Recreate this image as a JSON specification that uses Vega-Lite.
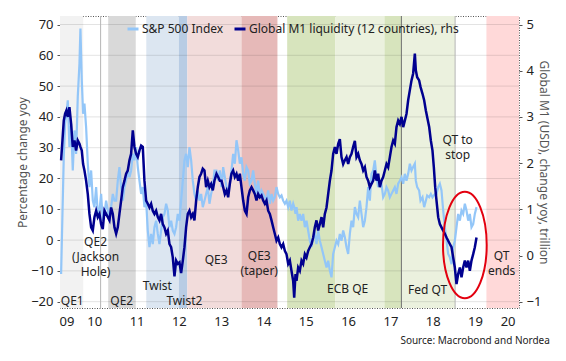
{
  "$schema": "https://vega.github.io/schema/vega-lite/v6.json",
  "width": 459,
  "height": 292,
  "autosize": "none",
  "padding": {"left": 60, "top": 16, "right": 47, "bottom": 53},
  "background": "white",
  "config": {
    "font": "Noto Sans",
    "view": {"stroke": "#555", "strokeDash": [1, 1.5], "strokeWidth": 1},
    "axis": {"labelFont": "Noto Sans", "titleFont": "Noto Sans", "labelColor": "#222", "tickColor": "#555", "domain": false, "grid": false, "titleFontWeight": "normal"}
  },
  "title": {"text": "Source: Macrobond and Nordea", "orient": "bottom", "anchor": "end", "frame": "bounds", "fontSize": 10, "fontWeight": "normal", "color": "#222", "offset": 8, "font": "Noto Sans"},
  "datasets": {
    "bands": [
      {"a": 2009.69, "b": 2010.24, "k": "QE1"},
      {"a": 2010.83, "b": 2011.48, "k": "QE2"},
      {"a": 2011.73, "b": 2012.50, "k": "Twist"},
      {"a": 2012.50, "b": 2012.70, "k": "Twist2"},
      {"a": 2012.70, "b": 2013.98, "k": "QE3"},
      {"a": 2013.98, "b": 2014.83, "k": "Taper"},
      {"a": 2015.06, "b": 2016.20, "k": "ECB1"},
      {"a": 2016.20, "b": 2017.36, "k": "ECB2"},
      {"a": 2017.36, "b": 2017.76, "k": "ECB3"},
      {"a": 2017.76, "b": 2019.03, "k": "FedQT"},
      {"a": 2019.77, "b": 2020.54, "k": "QTends"}
    ],
    "events": [
      {"t": 2010.65, "k": "minor"},
      {"t": 2017.76, "k": "major"},
      {"t": 2019.03, "k": "minor"}
    ],
    "grid": [
      {"g": -20}, {"g": -10}, {"g": 0}, {"g": 10}, {"g": 20}, {"g": 30}, {"g": 40}, {"g": 50}, {"g": 60}, {"g": 70}
    ],
    "notes": [
      {"label": "QE1", "t": 2009.98, "v": -19.7},
      {"label": "QE2\n(Jackson\nHole)", "t": 2010.53, "v": -0.6},
      {"label": "QE2", "t": 2011.15, "v": -19.7},
      {"label": "Twist", "t": 2011.99, "v": -15.0},
      {"label": "Twist2", "t": 2012.63, "v": -19.7},
      {"label": "QE3", "t": 2013.38, "v": -6.5},
      {"label": "QE3\n(taper)", "t": 2014.40, "v": -5.1},
      {"label": "ECB QE", "t": 2016.49, "v": -15.9},
      {"label": "Fed QT", "t": 2018.38, "v": -16.3},
      {"label": "QT to\nstop", "t": 2019.09, "v": 32.5},
      {"label": "QT\nends", "t": 2020.13, "v": -5.2}
    ],
    "ellipse": [{"t": 2019.26, "v": -1.6}],
    "series": [
      {"t": 2009.716, "s": -11.0, "m": 2.06},
      {"t": 2009.748, "s": 8.5, "m": 2.49},
      {"t": 2009.779, "s": 26.9, "m": 2.92},
      {"t": 2009.811, "s": 37.8, "m": 3.07},
      {"t": 2009.842, "s": 41.0, "m": 3.14},
      {"t": 2009.874, "s": 45.4, "m": 3.00},
      {"t": 2009.913, "s": 30.2, "m": 3.21},
      {"t": 2009.953, "s": 37.8, "m": 2.85},
      {"t": 2009.992, "s": 22.6, "m": 2.35},
      {"t": 2010.032, "s": 35.6, "m": 2.49},
      {"t": 2010.071, "s": 28.0, "m": 2.27},
      {"t": 2010.110, "s": 46.5, "m": 2.49},
      {"t": 2010.150, "s": 57.3, "m": 2.42},
      {"t": 2010.173, "s": 68.7, "m": 2.35},
      {"t": 2010.205, "s": 51.9, "m": 2.27},
      {"t": 2010.236, "s": 41.0, "m": 1.98},
      {"t": 2010.268, "s": 44.3, "m": 1.84},
      {"t": 2010.307, "s": 36.7, "m": 1.62},
      {"t": 2010.347, "s": 24.8, "m": 1.33},
      {"t": 2010.386, "s": 17.2, "m": 0.90},
      {"t": 2010.426, "s": 22.6, "m": 0.61},
      {"t": 2010.465, "s": 12.8, "m": 0.54},
      {"t": 2010.504, "s": 10.7, "m": 0.83},
      {"t": 2010.544, "s": 17.2, "m": 0.97},
      {"t": 2010.583, "s": 8.5, "m": 0.83},
      {"t": 2010.623, "s": 9.6, "m": 0.90},
      {"t": 2010.662, "s": 15.0, "m": 0.68},
      {"t": 2010.701, "s": 6.3, "m": 0.57},
      {"t": 2010.741, "s": 8.5, "m": 0.97},
      {"t": 2010.780, "s": 12.8, "m": 0.90},
      {"t": 2010.820, "s": 9.6, "m": 0.83},
      {"t": 2010.859, "s": 6.3, "m": 0.76},
      {"t": 2010.898, "s": 10.7, "m": 1.04},
      {"t": 2010.938, "s": 15.0, "m": 0.90},
      {"t": 2010.977, "s": 12.8, "m": 0.61},
      {"t": 2011.017, "s": 12.8, "m": 0.47},
      {"t": 2011.056, "s": 19.3, "m": 0.61},
      {"t": 2011.095, "s": 23.7, "m": 0.90},
      {"t": 2011.135, "s": 17.2, "m": 1.19},
      {"t": 2011.174, "s": 12.8, "m": 1.48},
      {"t": 2011.214, "s": 17.2, "m": 1.62},
      {"t": 2011.253, "s": 19.3, "m": 1.77},
      {"t": 2011.292, "s": 22.6, "m": 1.84},
      {"t": 2011.332, "s": 20.4, "m": 2.06},
      {"t": 2011.371, "s": 22.6, "m": 2.20},
      {"t": 2011.411, "s": 28.0, "m": 2.71},
      {"t": 2011.450, "s": 25.9, "m": 2.35},
      {"t": 2011.489, "s": 30.2, "m": 2.20},
      {"t": 2011.529, "s": 23.7, "m": 2.13},
      {"t": 2011.568, "s": 19.3, "m": 2.27},
      {"t": 2011.608, "s": 15.0, "m": 2.38},
      {"t": 2011.647, "s": 17.2, "m": 2.35},
      {"t": 2011.686, "s": 10.7, "m": 1.62},
      {"t": 2011.726, "s": 12.8, "m": 1.19},
      {"t": 2011.765, "s": 3.1, "m": 1.12},
      {"t": 2011.805, "s": -2.3, "m": 1.04},
      {"t": 2011.844, "s": 2.0, "m": 1.12},
      {"t": 2011.883, "s": -1.3, "m": 0.97},
      {"t": 2011.923, "s": 4.2, "m": 0.90},
      {"t": 2011.962, "s": 6.3, "m": 0.97},
      {"t": 2012.002, "s": 2.0, "m": 0.83},
      {"t": 2012.041, "s": -1.3, "m": 0.76},
      {"t": 2012.080, "s": 3.1, "m": 0.90},
      {"t": 2012.120, "s": 7.4, "m": 0.68},
      {"t": 2012.159, "s": 8.5, "m": 0.61},
      {"t": 2012.199, "s": 11.8, "m": 0.47},
      {"t": 2012.238, "s": 9.6, "m": 0.54},
      {"t": 2012.277, "s": 4.2, "m": 0.25},
      {"t": 2012.317, "s": 6.3, "m": 0.18},
      {"t": 2012.356, "s": 3.1, "m": -0.04},
      {"t": 2012.396, "s": 2.0, "m": -0.45},
      {"t": 2012.435, "s": 4.2, "m": -0.11},
      {"t": 2012.474, "s": 8.5, "m": -0.18},
      {"t": 2012.514, "s": 6.3, "m": -0.15},
      {"t": 2012.553, "s": 12.8, "m": -0.38},
      {"t": 2012.593, "s": 19.3, "m": -0.11},
      {"t": 2012.632, "s": 25.9, "m": 0.18},
      {"t": 2012.671, "s": 28.0, "m": 0.61},
      {"t": 2012.711, "s": 23.7, "m": 0.90},
      {"t": 2012.750, "s": 30.2, "m": 0.97},
      {"t": 2012.790, "s": 25.9, "m": 0.83},
      {"t": 2012.829, "s": 19.3, "m": 0.90},
      {"t": 2012.868, "s": 15.0, "m": 0.76},
      {"t": 2012.908, "s": 12.8, "m": 1.19},
      {"t": 2012.947, "s": 16.1, "m": 1.48},
      {"t": 2012.987, "s": 12.8, "m": 1.70},
      {"t": 2013.026, "s": 15.0, "m": 1.77},
      {"t": 2013.065, "s": 10.7, "m": 1.88},
      {"t": 2013.105, "s": 12.8, "m": 1.84},
      {"t": 2013.144, "s": 15.0, "m": 1.48},
      {"t": 2013.184, "s": 17.2, "m": 1.62},
      {"t": 2013.223, "s": 11.8, "m": 1.48},
      {"t": 2013.262, "s": 15.0, "m": 1.55},
      {"t": 2013.302, "s": 17.2, "m": 1.41},
      {"t": 2013.341, "s": 22.6, "m": 1.62},
      {"t": 2013.389, "s": 22.6, "m": 1.77},
      {"t": 2013.429, "s": 19.3, "m": 1.70},
      {"t": 2013.468, "s": 22.6, "m": 1.62},
      {"t": 2013.508, "s": 17.2, "m": 1.62},
      {"t": 2013.547, "s": 23.7, "m": 1.48},
      {"t": 2013.586, "s": 20.4, "m": 1.33},
      {"t": 2013.626, "s": 17.2, "m": 1.41},
      {"t": 2013.665, "s": 15.0, "m": 1.26},
      {"t": 2013.705, "s": 19.3, "m": 1.55},
      {"t": 2013.744, "s": 22.6, "m": 1.77},
      {"t": 2013.783, "s": 28.0, "m": 1.84},
      {"t": 2013.823, "s": 24.8, "m": 1.70},
      {"t": 2013.862, "s": 32.4, "m": 1.77},
      {"t": 2013.902, "s": 29.1, "m": 1.62},
      {"t": 2013.941, "s": 24.8, "m": 1.77},
      {"t": 2013.980, "s": 26.9, "m": 1.48},
      {"t": 2014.020, "s": 21.5, "m": 1.19},
      {"t": 2014.059, "s": 19.3, "m": 0.97},
      {"t": 2014.099, "s": 23.7, "m": 0.90},
      {"t": 2014.138, "s": 22.6, "m": 1.26},
      {"t": 2014.177, "s": 18.3, "m": 1.41},
      {"t": 2014.217, "s": 19.3, "m": 1.48},
      {"t": 2014.256, "s": 22.6, "m": 1.41},
      {"t": 2014.296, "s": 18.3, "m": 1.33},
      {"t": 2014.335, "s": 15.0, "m": 1.19},
      {"t": 2014.374, "s": 19.3, "m": 1.33},
      {"t": 2014.414, "s": 13.9, "m": 1.26},
      {"t": 2014.453, "s": 16.1, "m": 1.30},
      {"t": 2014.493, "s": 15.0, "m": 1.19},
      {"t": 2014.532, "s": 13.9, "m": 1.12},
      {"t": 2014.571, "s": 12.8, "m": 1.19},
      {"t": 2014.611, "s": 16.1, "m": 0.97},
      {"t": 2014.650, "s": 11.8, "m": 0.90},
      {"t": 2014.690, "s": 15.0, "m": 0.76},
      {"t": 2014.729, "s": 12.8, "m": 0.61},
      {"t": 2014.768, "s": 13.9, "m": 0.47},
      {"t": 2014.808, "s": 17.2, "m": 0.32},
      {"t": 2014.847, "s": 15.0, "m": 0.39},
      {"t": 2014.887, "s": 13.9, "m": 0.25},
      {"t": 2014.926, "s": 14.5, "m": 0.18},
      {"t": 2014.965, "s": 12.8, "m": 0.25},
      {"t": 2015.005, "s": 11.8, "m": 0.10},
      {"t": 2015.044, "s": 12.8, "m": 0.03},
      {"t": 2015.084, "s": 10.7, "m": -0.18},
      {"t": 2015.123, "s": 12.8, "m": -0.11},
      {"t": 2015.162, "s": 9.6, "m": -0.33},
      {"t": 2015.202, "s": 11.8, "m": -0.55},
      {"t": 2015.226, "s": 10.7, "m": -0.91},
      {"t": 2015.257, "s": 8.5, "m": -0.40},
      {"t": 2015.281, "s": 10.7, "m": -0.55},
      {"t": 2015.320, "s": 6.3, "m": -0.26},
      {"t": 2015.359, "s": 8.5, "m": -0.33},
      {"t": 2015.399, "s": 6.3, "m": -0.11},
      {"t": 2015.438, "s": 8.5, "m": -0.18},
      {"t": 2015.478, "s": 4.2, "m": 0.03},
      {"t": 2015.517, "s": 6.3, "m": -0.04},
      {"t": 2015.556, "s": 3.1, "m": 0.10},
      {"t": 2015.596, "s": -0.2, "m": 0.18},
      {"t": 2015.635, "s": -2.3, "m": 0.25},
      {"t": 2015.675, "s": 0.9, "m": 0.39},
      {"t": 2015.714, "s": 2.0, "m": 0.61},
      {"t": 2015.753, "s": -1.3, "m": 0.76},
      {"t": 2015.793, "s": 3.1, "m": 0.54},
      {"t": 2015.832, "s": -0.2, "m": 0.68},
      {"t": 2015.872, "s": -2.3, "m": 0.83},
      {"t": 2015.911, "s": -4.5, "m": 0.61},
      {"t": 2015.950, "s": -6.7, "m": 0.90},
      {"t": 2015.990, "s": -8.9, "m": 1.04},
      {"t": 2016.029, "s": -6.7, "m": 1.33},
      {"t": 2016.069, "s": -9.9, "m": 1.62},
      {"t": 2016.108, "s": -12.1, "m": 1.84},
      {"t": 2016.147, "s": -4.5, "m": 2.20},
      {"t": 2016.187, "s": -2.3, "m": 2.35},
      {"t": 2016.226, "s": -0.2, "m": 2.20},
      {"t": 2016.266, "s": -1.3, "m": 2.42},
      {"t": 2016.305, "s": 2.0, "m": 2.52},
      {"t": 2016.344, "s": -0.2, "m": 2.13},
      {"t": 2016.384, "s": 3.1, "m": 1.98},
      {"t": 2016.423, "s": 0.9, "m": 2.06},
      {"t": 2016.463, "s": -2.3, "m": 2.13},
      {"t": 2016.502, "s": -4.5, "m": 1.98},
      {"t": 2016.541, "s": 2.0, "m": 2.13},
      {"t": 2016.581, "s": 6.3, "m": 2.20},
      {"t": 2016.620, "s": 4.2, "m": 2.35},
      {"t": 2016.660, "s": 10.7, "m": 2.48},
      {"t": 2016.699, "s": 8.5, "m": 2.13},
      {"t": 2016.738, "s": 7.4, "m": 2.20},
      {"t": 2016.778, "s": 12.8, "m": 2.06},
      {"t": 2016.817, "s": 8.5, "m": 1.98},
      {"t": 2016.857, "s": 4.2, "m": 1.84},
      {"t": 2016.896, "s": 6.3, "m": 1.91},
      {"t": 2016.935, "s": 10.7, "m": 1.70},
      {"t": 2016.975, "s": 17.2, "m": 1.62},
      {"t": 2017.014, "s": 12.8, "m": 1.48},
      {"t": 2017.053, "s": 21.5, "m": 1.55},
      {"t": 2017.093, "s": 22.6, "m": 1.62},
      {"t": 2017.132, "s": 25.9, "m": 1.84},
      {"t": 2017.172, "s": 20.4, "m": 1.62},
      {"t": 2017.211, "s": 17.2, "m": 1.77},
      {"t": 2017.250, "s": 19.3, "m": 1.48},
      {"t": 2017.290, "s": 18.3, "m": 1.62},
      {"t": 2017.329, "s": 13.9, "m": 1.70},
      {"t": 2017.369, "s": 15.0, "m": 1.84},
      {"t": 2017.408, "s": 17.2, "m": 1.98},
      {"t": 2017.447, "s": 16.1, "m": 1.91},
      {"t": 2017.487, "s": 13.9, "m": 2.13},
      {"t": 2017.526, "s": 15.0, "m": 2.35},
      {"t": 2017.566, "s": 16.1, "m": 2.49},
      {"t": 2017.605, "s": 17.2, "m": 2.42},
      {"t": 2017.644, "s": 15.0, "m": 2.78},
      {"t": 2017.684, "s": 18.3, "m": 2.92},
      {"t": 2017.723, "s": 19.3, "m": 2.85},
      {"t": 2017.763, "s": 20.4, "m": 3.00},
      {"t": 2017.802, "s": 18.3, "m": 2.78},
      {"t": 2017.841, "s": 21.5, "m": 2.92},
      {"t": 2017.881, "s": 19.3, "m": 3.07},
      {"t": 2017.920, "s": 21.5, "m": 3.36},
      {"t": 2017.960, "s": 24.8, "m": 3.58},
      {"t": 2017.999, "s": 22.6, "m": 3.79},
      {"t": 2018.038, "s": 23.7, "m": 3.94},
      {"t": 2018.078, "s": 24.8, "m": 4.37},
      {"t": 2018.101, "s": 19.3, "m": 4.01},
      {"t": 2018.133, "s": 17.2, "m": 3.86},
      {"t": 2018.180, "s": 16.1, "m": 3.79},
      {"t": 2018.212, "s": 12.8, "m": 3.65},
      {"t": 2018.259, "s": 13.9, "m": 3.50},
      {"t": 2018.298, "s": 10.7, "m": 3.36},
      {"t": 2018.338, "s": 12.8, "m": 3.14},
      {"t": 2018.369, "s": 14.5, "m": 3.00},
      {"t": 2018.417, "s": 13.9, "m": 2.78},
      {"t": 2018.456, "s": 15.0, "m": 2.49},
      {"t": 2018.495, "s": 13.9, "m": 2.27},
      {"t": 2018.527, "s": 14.5, "m": 1.91},
      {"t": 2018.559, "s": 15.0, "m": 1.48},
      {"t": 2018.590, "s": 15.0, "m": 1.19},
      {"t": 2018.630, "s": 17.2, "m": 0.83},
      {"t": 2018.669, "s": 18.3, "m": 0.68},
      {"t": 2018.708, "s": 16.1, "m": 0.61},
      {"t": 2018.748, "s": 9.6, "m": 0.54},
      {"t": 2018.787, "s": 4.2, "m": 0.47},
      {"t": 2018.827, "s": -0.2, "m": 0.39},
      {"t": 2018.866, "s": -4.5, "m": 0.32},
      {"t": 2018.905, "s": -5.6, "m": 0.25},
      {"t": 2018.945, "s": -7.8, "m": 0.18},
      {"t": 2018.984, "s": -2.3, "m": -0.04},
      {"t": 2019.023, "s": -0.2, "m": -0.26},
      {"t": 2019.063, "s": 4.2, "m": -0.62},
      {"t": 2019.102, "s": 8.5, "m": -0.40},
      {"t": 2019.142, "s": 6.3, "m": -0.26},
      {"t": 2019.181, "s": 9.6, "m": -0.47},
      {"t": 2019.220, "s": 8.5, "m": -0.26},
      {"t": 2019.260, "s": 11.8, "m": -0.11},
      {"t": 2019.299, "s": 9.6, "m": -0.26},
      {"t": 2019.339, "s": 6.3, "m": -0.11},
      {"t": 2019.378, "s": 8.5, "m": -0.33},
      {"t": 2019.417, "s": 4.2, "m": -0.11},
      {"t": 2019.457, "s": 5.2, "m": 0.03},
      {"t": 2019.496, "s": 8.5, "m": 0.18},
      {"t": 2019.536, "s": 10.7, "m": 0.39}
    ]
  },
  "layer": [
    {
      "data": {"name": "bands"},
      "mark": {"type": "rect"},
      "encoding": {
        "x": {"field": "a", "type": "quantitative", "scale": {"domain": [2009.69, 2020.54], "nice": false, "zero": false},
          "axis": {"values": [2009.845, 2010, 2010.5, 2011, 2011.5, 2012, 2012.5, 2013, 2013.5, 2014, 2014.5, 2015, 2015.5, 2016, 2016.5, 2017, 2017.5, 2018, 2018.5, 2019, 2019.5, 2020, 2020.27],
            "labelExpr": "datum.value % 1 == 0 ? '' : slice(toString(floor(datum.value)), 2)",
            "tickColor": {"condition": {"test": "datum.value % 1 == 0", "value": "#555"}, "value": "transparent"},
            "labelOverlap": false, "tickSize": 5, "labelPadding": 2, "labelFontSize": 13, "title": null}},
        "x2": {"field": "b"},
        "fill": {"field": "k", "type": "nominal", "legend": null,
          "scale": {"domain": ["QE1", "QE2", "Twist", "Twist2", "QE3", "Taper", "ECB1", "ECB2", "ECB3", "FedQT", "QTends"],
            "range": ["#f2f2f2", "#d9d9d9", "#dce6f1", "#b8cce4", "#f2dcdb", "#e6b9b8", "#d7e4bd", "#ebf1de", "#d7e4bd", "#ebf1de", "#ffd9d9"]}}
      }
    },
    {
      "data": {"name": "grid"},
      "mark": {"type": "rule", "color": "#000", "opacity": 0.11, "strokeWidth": 1},
      "encoding": {
        "y": {"field": "g", "type": "quantitative", "scale": {"domain": [-22.05, 72.76], "nice": false, "zero": false}, "axis": null}
      }
    },
    {
      "data": {"name": "events"},
      "mark": {"type": "rule", "strokeWidth": 1},
      "encoding": {
        "x": {"field": "t", "type": "quantitative"},
        "stroke": {"field": "k", "type": "nominal", "legend": null, "scale": {"domain": ["minor", "major"], "range": ["#b5b5b5", "#707070"]}}
      }
    },
    {
      "data": {"name": "series"},
      "mark": {"type": "line", "strokeWidth": 2.2},
      "encoding": {
        "x": {"field": "t", "type": "quantitative"},
        "y": {"field": "s", "type": "quantitative", "scale": {"domain": [-22.05, 72.76], "nice": false, "zero": false},
          "axis": {"orient": "left", "values": [-20, -10, 0, 10, 20, 30, 40, 50, 60, 70], "tickSize": 3, "labelPadding": 4, "labelFontSize": 13,
            "title": "Percentage change yoy", "titleFontSize": 12, "titleColor": "#555", "titlePadding": 1}},
        "color": {"datum": "S&P 500 Index", "type": "nominal",
          "scale": {"domain": ["S&P 500 Index", "Global M1 liquidity (12 countries), rhs"], "range": ["#93c6f8", "#00008f"]},
          "legend": {"orient": "none", "legendX": 66, "legendY": 6, "direction": "horizontal", "title": null, "symbolType": "stroke", "symbolStrokeWidth": 3, "symbolSize": 121, "labelFontSize": 12, "labelColor": "#222", "labelFont": "Noto Sans", "columnPadding": 4, "labelOffset": 2, "padding": 0, "labelLimit": 400}}
      }
    },
    {
      "data": {"name": "series"},
      "mark": {"type": "line", "strokeWidth": 2.5},
      "encoding": {
        "x": {"field": "t", "type": "quantitative"},
        "y": {"field": "m", "type": "quantitative", "scale": {"domain": [-1.136, 5.184], "nice": false, "zero": false},
          "axis": {"orient": "right", "values": [-1, 0, 1, 2, 3, 4, 5], "tickSize": 3, "labelPadding": 4, "labelFontSize": 13,
            "title": "Global M1 (USD), change yoy, trillion", "titleFontSize": 12, "titleColor": "#555", "titlePadding": -4}},
        "color": {"datum": "Global M1 liquidity (12 countries), rhs", "type": "nominal"}
      }
    },
    {
      "data": {"name": "notes"},
      "mark": {"type": "text", "fontSize": 12, "color": "#222", "align": "center", "baseline": "middle", "lineBreak": "\n", "lineHeight": 15, "font": "Noto Sans"},
      "encoding": {
        "x": {"field": "t", "type": "quantitative"},
        "y": {"field": "v", "type": "quantitative", "scale": {"domain": [-22.05, 72.76], "nice": false, "zero": false}, "axis": null},
        "text": {"field": "label", "type": "nominal"}
      }
    },
    {
      "data": {"name": "ellipse"},
      "mark": {"type": "point", "filled": false, "shape": "M 0 -1 A 0.41 1 0 1 1 0 1 A 0.41 1 0 1 1 0 -1 Z", "size": 11364, "stroke": "#e3000f", "strokeWidth": 2, "opacity": 1},
      "encoding": {
        "x": {"field": "t", "type": "quantitative"},
        "y": {"field": "v", "type": "quantitative", "scale": {"domain": [-22.05, 72.76], "nice": false, "zero": false}, "axis": null}
      }
    }
  ],
  "resolve": {"scale": {"y": "independent"}}
}
